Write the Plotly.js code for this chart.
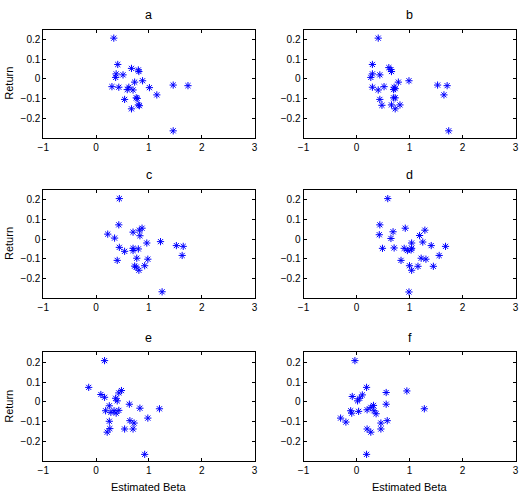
<!DOCTYPE html>
<html>
<head>
<meta charset="utf-8">
<script src="https://cdn.plot.ly/plotly-3.0.1.min.js"></script>
<style>html,body{margin:0;padding:0;background:#fff;}#chart{width:525px;height:496px;}</style>
</head>
<body>
<div id="chart"></div>
<script>
const panelNames = ["a", "b", "c", "d", "e", "f"];

const betaA = [0.335, 0.41, 0.67, 0.80, 0.81, 0.38, 0.37, 0.51, 0.73, 0.88, 0.30, 0.43, 0.62, 0.59, 0.70, 1.01, 1.46, 1.74, 1.15, 0.76, 0.78, 0.54, 0.80, 0.82, 0.67, 1.46];
const retA  = [0.207, 0.073, 0.053, 0.045, 0.037, 0.025, 0.007, 0.02, -0.017, -0.01, -0.04, -0.043, -0.043, -0.055, -0.057, -0.045, -0.032, -0.035, -0.082, -0.097, -0.10, -0.105, -0.133, -0.137, -0.153, -0.265];

const betaB = [0.41, 0.30, 0.61, 0.65, 0.66, 0.30, 0.27, 0.44, 0.79, 0.99, 0.30, 0.52, 0.41, 0.71, 0.70, 0.73, 1.53, 1.71, 1.65, 0.44, 0.70, 0.73, 0.48, 0.66, 0.82, 0.73, 1.74];
const retB  = [0.207, 0.073, 0.057, 0.047, 0.037, 0.025, 0.007, 0.02, -0.017, -0.01, -0.043, -0.04, -0.057, -0.043, -0.055, -0.05, -0.032, -0.035, -0.082, -0.105, -0.097, -0.097, -0.135, -0.133, -0.133, -0.153, -0.265];

const betaC = [0.44, 0.43, 0.22, 0.35, 0.70, 0.82, 0.87, 0.83, 0.96, 1.22, 1.52, 1.65, 1.63, 0.44, 0.54, 0.70, 0.70, 0.80, 0.40, 0.77, 0.98, 0.73, 0.76, 0.92, 0.81, 1.25];
const retC  = [0.205, 0.072, 0.025, 0.005, 0.035, 0.045, 0.055, 0.017, -0.02, -0.013, -0.033, -0.037, -0.083, -0.042, -0.062, -0.047, -0.058, -0.05, -0.108, -0.097, -0.102, -0.137, -0.142, -0.135, -0.158, -0.267];

const betaD = [0.59, 0.44, 0.43, 0.69, 0.65, 0.92, 1.29, 1.19, 1.25, 1.04, 1.41, 1.68, 1.56, 0.49, 0.71, 0.90, 0.96, 1.03, 1.04, 0.84, 1.22, 1.31, 1.00, 1.04, 1.16, 1.45, 0.99];
const retD  = [0.205, 0.072, 0.022, 0.037, 0.003, 0.055, 0.045, 0.018, -0.015, -0.02, -0.033, -0.037, -0.083, -0.047, -0.045, -0.047, -0.058, -0.055, -0.047, -0.108, -0.097, -0.102, -0.135, -0.158, -0.138, -0.138, -0.268];

const betaE = [0.16, -0.14, 0.09, 0.16, 0.48, 0.43, 0.37, 0.40, 0.63, 0.83, 1.20, 0.25, 0.18, 0.28, 0.34, 0.38, 0.43, 0.98, 0.25, 0.64, 0.72, 0.26, 0.21, 0.54, 0.70, 0.92];
const retE  = [0.208, 0.073, 0.037, 0.023, 0.057, 0.045, 0.018, 0.005, -0.012, -0.032, -0.035, -0.02, -0.045, -0.053, -0.045, -0.057, -0.043, -0.082, -0.098, -0.095, -0.107, -0.135, -0.153, -0.137, -0.137, -0.265];

const betaF = [-0.03, 0.19, -0.08, 0.06, 0.11, 0.02, 0.56, 0.95, 0.56, 0.32, 0.27, 0.20, 0.33, 0.37, 1.28, -0.11, -0.09, 0.04, -0.30, -0.20, 0.58, 0.46, 0.20, 0.27, 0.46, 0.19];
const retF  = [0.208, 0.073, 0.027, 0.018, 0.035, 0.005, 0.047, 0.055, -0.012, -0.018, -0.028, -0.04, -0.045, -0.06, -0.035, -0.045, -0.057, -0.048, -0.082, -0.102, -0.095, -0.107, -0.137, -0.153, -0.137, -0.265];

const xTicks = [-1, 0, 1, 2, 3];
const yTicks = [-0.2, -0.1, 0, 0.1, 0.2];
const xLabel = "Estimated Beta";
const yLabel = "Return";

const betas = [betaA, betaB, betaC, betaD, betaE, betaF];
const rets = [retA, retB, retC, retD, retE, retF];

const W = 525, H = 496;
const colPx = [[43.3, 254.5], [303.5, 515.5]];
const rowPx = [[29.7, 137.7], [189.7, 298.3], [352.3, 461.3]];
const font = "Liberation Sans, Arial, sans-serif";

const data = [];
const layout = {
  width: W, height: H,
  margin: {l: 0, r: 0, t: 0, b: 0},
  paper_bgcolor: "#fff", plot_bgcolor: "#fff",
  showlegend: false,
  font: {family: font, size: 10, color: "#000"},
  annotations: []
};

for (let i = 0; i < 6; i++) {
  const r = Math.floor(i / 2), c = i % 2;
  const n = i === 0 ? "" : String(i + 1);
  data.push({
    type: "scatter", mode: "markers",
    x: betas[i], y: rets[i],
    xaxis: "x" + n, yaxis: "y" + n,
    marker: {symbol: "asterisk-open", size: 6, color: "rgb(0,0,255)", line: {color: "rgb(0,0,255)", width: 1}},
    hoverinfo: "skip"
  });
  const xd = [colPx[c][0] / W, colPx[c][1] / W];
  const yd = [1 - rowPx[r][1] / H, 1 - rowPx[r][0] / H];
  const common = {
    showgrid: false, zeroline: false,
    showline: true, linecolor: "#000", linewidth: 1, mirror: "ticks",
    ticks: "inside", ticklen: 3, tickwidth: 1, tickcolor: "#000",
    tickfont: {family: font, size: 10, color: "#000"},
    fixedrange: true
  };
  layout["xaxis" + n] = Object.assign({}, common, {
    domain: xd, range: [-1, 3], tickvals: xTicks, anchor: "y" + n
  });
  layout["yaxis" + n] = Object.assign({}, common, {
    domain: yd, range: [-0.3, 0.25], tickvals: yTicks, anchor: "x" + n
  });
  const cx = (colPx[c][0] + colPx[c][1]) / 2 / W;
  layout.annotations.push({
    text: panelNames[i], xref: "paper", yref: "paper",
    x: cx, y: 1 - (rowPx[r][0] - 14.5) / H, xanchor: "center", yanchor: "middle",
    showarrow: false, font: {family: font, size: 12.5, color: "#000"}
  });
  if (c === 0) {
    layout.annotations.push({
      text: yLabel, xref: "paper", yref: "paper", textangle: -90,
      x: 9 / W, y: 1 - (rowPx[r][0] + rowPx[r][1]) / 2 / H, xanchor: "center", yanchor: "middle",
      showarrow: false, font: {family: font, size: 11, color: "#000"}
    });
  }
  if (r === 2) {
    layout.annotations.push({
      text: xLabel, xref: "paper", yref: "paper",
      x: cx, y: 1 - 487 / H, xanchor: "center", yanchor: "middle",
      showarrow: false, font: {family: font, size: 11, color: "#000"}
    });
  }
}

Plotly.newPlot("chart", data, layout, {displayModeBar: false, staticPlot: true});
</script>
</body>
</html>
